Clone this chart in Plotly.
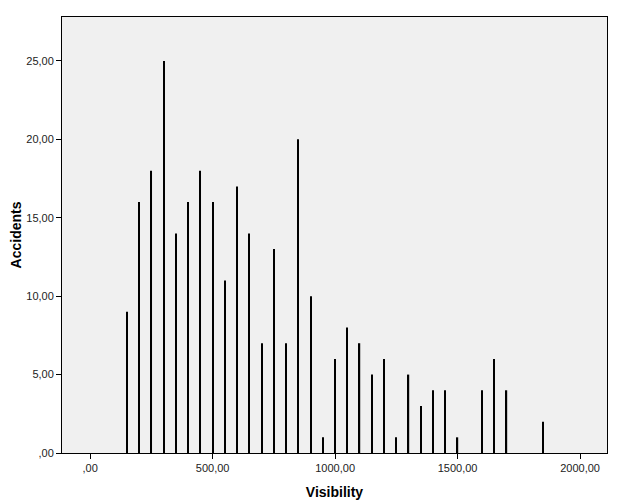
import plotly.graph_objects as go

visibility = [150, 200, 250, 300, 350, 400, 450, 500, 550, 600, 650, 700, 750, 800,
              850, 900, 950, 1000, 1050, 1100, 1150, 1200, 1250, 1300, 1350, 1400,
              1450, 1500, 1600, 1650, 1700, 1850]
accidents = [9, 16, 18, 25, 14, 16, 18, 16, 11, 17, 14, 7, 13, 7,
             20, 10, 1, 6, 8, 7, 5, 6, 1, 5, 3, 4,
             4, 1, 4, 6, 4, 2]

x_ticks = [0, 500, 1000, 1500, 2000]
x_ticklabels = [",00", "500,00", "1000,00", "1500,00", "2000,00"]
y_ticks = [0, 5, 10, 15, 20, 25]
y_ticklabels = [",00", "5,00", "10,00", "15,00", "20,00", "25,00"]

fig = go.Figure(go.Bar(x=visibility, y=accidents, width=5,
                       marker=dict(color="black", line=dict(width=0))))

font = dict(family="Liberation Sans, Arial, sans-serif", color="black")
fig.update_layout(
    width=635, height=503,
    margin=dict(l=54, r=36, t=9, b=58),
    paper_bgcolor="white", plot_bgcolor="#F0F0F0",
    font=font, showlegend=False,
    xaxis=dict(range=[-115, 2110], tickvals=x_ticks, ticktext=x_ticklabels,
               ticks="outside", ticklen=5, tickcolor="black", showgrid=False,
               zeroline=False, showline=True, linecolor="black", linewidth=1, mirror=True,
               automargin=False,
               tickfont=dict(size=11, family=font["family"], color="#222"),
               title=dict(text="<b>Visibility</b>", font=dict(size=14), standoff=13)),
    yaxis=dict(range=[0, 27.8], tickvals=y_ticks, ticktext=y_ticklabels,
               ticks="outside", ticklen=5, tickcolor="black", showgrid=False,
               zeroline=False, showline=True, linecolor="black", linewidth=1, mirror=True,
               automargin=False,
               tickfont=dict(size=11, family=font["family"], color="#222"),
               title=dict(text="<b>Accidents</b>", font=dict(size=14), standoff=9)),
)
fig.write_html("out.html")
